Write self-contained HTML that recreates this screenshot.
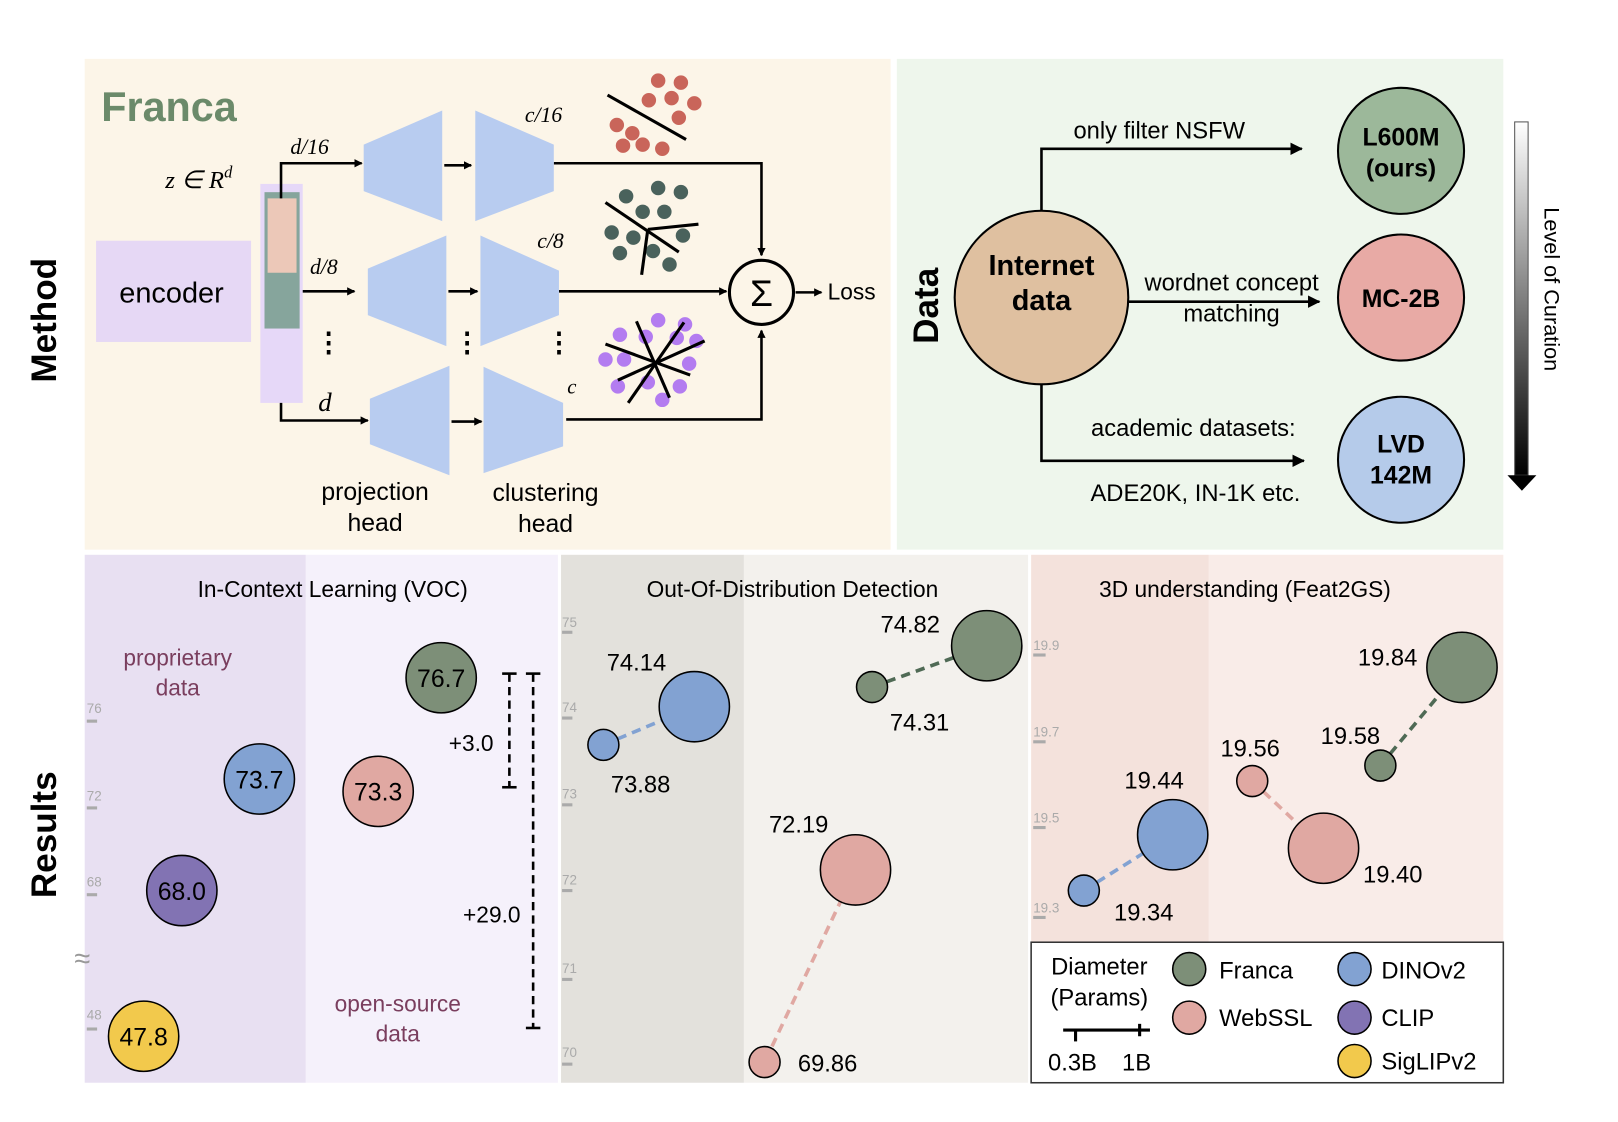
<!DOCTYPE html>
<html><head><meta charset="utf-8"><style>
html,body{margin:0;padding:0;background:#fff}
svg{display:block}
text{font-family:"Liberation Sans",sans-serif}
.s{font-family:"Liberation Serif",serif;font-style:italic}
</style></head><body>
<svg width="1618" height="1122" viewBox="0 0 1566 1086" preserveAspectRatio="none" xmlns="http://www.w3.org/2000/svg">
<defs>
<marker id="ah" markerWidth="8" markerHeight="8" refX="7" refY="4" orient="auto" markerUnits="userSpaceOnUse"><path d="M0,0 L8,4 L0,8 Z" fill="#000"/></marker>
<marker id="ah2" markerWidth="12" markerHeight="12" refX="11" refY="6" orient="auto" markerUnits="userSpaceOnUse"><path d="M0,0 L12,6 L0,12 Z" fill="#000"/></marker>
<linearGradient id="g" x1="0" y1="0" x2="0" y2="1"><stop offset="0" stop-color="#fff"/><stop offset="1" stop-color="#000"/></linearGradient>
</defs>
<rect width="1566" height="1086" fill="#fff"/>
<rect x="82" y="57" width="780" height="475" fill="#fcf5e8"/>
<rect x="868" y="57" width="587" height="475" fill="#eef6ec"/>
<rect x="82" y="537" width="214" height="511" fill="#e8e0f2"/>
<rect x="296" y="537" width="244" height="511" fill="#f5f1fb"/>
<rect x="543" y="537" width="177" height="511" fill="#e3e1dc"/>
<rect x="720" y="537" width="275" height="511" fill="#f3f1ed"/>
<rect x="998" y="537" width="172" height="375" fill="#f4e2dc"/>
<rect x="1170" y="537" width="285" height="375" fill="#f9ece8"/>

<text x="54" y="310" font-size="34" font-weight="bold" text-anchor="middle" transform="rotate(-90 54 310)">Method</text>
<text x="54" y="808" font-size="34" font-weight="bold" text-anchor="middle" transform="rotate(-90 54 808)">Results</text>
<text x="908" y="296" font-size="34" font-weight="bold" text-anchor="middle" transform="rotate(-90 908 296)">Data</text>

<text x="98" y="117" font-size="40" font-weight="bold" fill="#6b8a6a">Franca</text>
<rect x="93" y="233" width="150" height="98" fill="#e6d8f5"/>
<text x="166" y="293" font-size="28" text-anchor="middle">encoder</text>
<rect x="252" y="178" width="41" height="212" fill="#e6d8f8"/>
<rect x="256" y="186" width="34" height="132" fill="#86a59c"/>
<rect x="259" y="192" width="28" height="72" fill="#ecc8b8"/>
<text x="160" y="182" font-size="24" class="s">z ∈ R<tspan font-size="16" dy="-10">d</tspan></text>
<g stroke="#000" stroke-width="2.5" fill="none">
<path d="M272,192 V158 H350" marker-end="url(#ah)"/>
<path d="M293,282 H343" marker-end="url(#ah)"/>
<path d="M272,390 V407 H356" marker-end="url(#ah)"/>
<path d="M430,160 H456" marker-end="url(#ah)"/>
<path d="M434,282 H462" marker-end="url(#ah)"/>
<path d="M437,408 H466" marker-end="url(#ah)"/>
<path d="M536,158 H737 V247" marker-end="url(#ah)"/>
<path d="M541,282 H703" marker-end="url(#ah)"/>
<path d="M548,406 H737 V320" marker-end="url(#ah)"/>
<path d="M770,283 H795" marker-end="url(#ah)"/>
<circle cx="737" cy="283" r="31" stroke-width="3"/>
</g>
<text x="281" y="149" font-size="21" class="s">d/16</text>
<text x="300" y="265" font-size="21" class="s">d/8</text>
<text x="308" y="398" font-size="26" class="s">d</text>
<text x="508" y="118" font-size="21" class="s">c/16</text>
<text x="520" y="240" font-size="21" class="s">c/8</text>
<text x="549" y="381" font-size="20" class="s">c</text>
<text x="737" y="296" font-size="36" text-anchor="middle" font-family="DejaVu Sans">Σ</text>
<text x="801" y="290" font-size="22" font-family="Liberation Serif">Loss</text>
<g fill="#b8ccf0">
<polygon points="352,140 428,107 428,214 352,185"/>
<polygon points="460,107 536,140 536,185 460,214"/>
<polygon points="356,260 432,228 432,335 356,305"/>
<polygon points="465,228 541,262 541,305 465,335"/>
<polygon points="358,386 435,354 435,460 358,430"/>
<polygon points="468,355 545,390 545,432 468,458"/>
</g>
<g font-size="26" font-weight="bold" text-anchor="middle"><text x="318" y="340">⋮</text><text x="452" y="340">⋮</text><text x="541" y="340">⋮</text></g>
<g font-size="24" text-anchor="middle"><text x="363" y="484">projection</text><text x="363" y="514">head</text><text x="528" y="485">clustering</text><text x="528" y="515">head</text></g>
<g fill="#c9655a"><circle cx="637" cy="78" r="7"/><circle cx="659" cy="80" r="7"/><circle cx="628" cy="97" r="7"/><circle cx="650" cy="95" r="7"/><circle cx="672" cy="100" r="7"/><circle cx="657" cy="114" r="7"/><circle cx="597" cy="121" r="7"/><circle cx="612" cy="129" r="7"/><circle cx="603" cy="141" r="7"/><circle cx="622" cy="140" r="7"/><circle cx="641" cy="144" r="7"/></g>
<line x1="588" y1="92" x2="664" y2="135" stroke="#000" stroke-width="3"/>
<g fill="#4a625c"><circle cx="637" cy="182" r="7"/><circle cx="659" cy="186" r="7"/><circle cx="606" cy="190" r="7"/><circle cx="622" cy="205" r="7"/><circle cx="643" cy="205" r="7"/><circle cx="592" cy="225" r="7"/><circle cx="613" cy="230" r="7"/><circle cx="661" cy="228" r="7"/><circle cx="600" cy="245" r="7"/><circle cx="632" cy="243" r="7"/><circle cx="648" cy="256" r="7"/></g>
<g stroke="#000" stroke-width="3"><line x1="586" y1="196" x2="657" y2="244"/><line x1="627" y1="222" x2="676" y2="217"/><line x1="627" y1="222" x2="621" y2="266"/></g>
<g fill="#b37cf0"><circle cx="637" cy="310" r="7"/><circle cx="663" cy="314" r="7"/><circle cx="600" cy="324" r="7"/><circle cx="625" cy="326" r="7"/><circle cx="655" cy="327" r="7"/><circle cx="674" cy="330" r="7"/><circle cx="586" cy="348" r="7"/><circle cx="604" cy="348" r="7"/><circle cx="667" cy="352" r="7"/><circle cx="598" cy="374" r="7"/><circle cx="627" cy="370" r="7"/><circle cx="658" cy="374" r="7"/><circle cx="641" cy="387" r="7"/></g>
<g stroke="#000" stroke-width="3"><line x1="616" y1="311" x2="648" y2="385"/><line x1="662" y1="312" x2="608" y2="390"/><line x1="586" y1="333" x2="668" y2="363"/><line x1="598" y1="368" x2="682" y2="330"/></g>

<g stroke="#000" stroke-width="2.5" fill="none">
<path d="M1008,204 V144 H1260" marker-end="url(#ah2)"/>
<path d="M1092,292 H1277" marker-end="url(#ah2)"/>
<path d="M1008,360 V446 H1262" marker-end="url(#ah2)"/>
</g>
<circle cx="1008" cy="288" r="84" fill="#dfc0a0" stroke="#000" stroke-width="2"/>
<g font-size="28" font-weight="bold" text-anchor="middle"><text x="1008" y="266">Internet</text><text x="1008" y="300">data</text></g>
<g font-size="23" text-anchor="middle"><text x="1122" y="134">only filter NSFW</text><text x="1192" y="281">wordnet concept</text><text x="1192" y="311">matching</text><text x="1155" y="422">academic datasets:</text><text x="1157" y="485">ADE20K, IN-1K etc.</text></g>
<circle cx="1356" cy="146" r="61" fill="#9cb89a" stroke="#000" stroke-width="2"/>
<circle cx="1356" cy="288" r="61" fill="#e8aaa5" stroke="#000" stroke-width="2"/>
<circle cx="1356" cy="445" r="61" fill="#b5cbea" stroke="#000" stroke-width="2"/>
<g font-size="24" font-weight="bold" text-anchor="middle"><text x="1356" y="141">L600M</text><text x="1356" y="171">(ours)</text><text x="1356" y="297">MC-2B</text><text x="1356" y="438">LVD</text><text x="1356" y="468">142M</text></g>
<rect x="1466" y="118" width="13" height="342" fill="url(#g)" stroke="#555" stroke-width="1"/>
<polygon points="1459,460 1487,460 1473,475" fill="#000"/>
<text x="1495" y="280" font-size="21" text-anchor="middle" transform="rotate(90 1495 280)">Level of Curation</text>

<g font-size="22" text-anchor="middle"><text x="322" y="578">In-Context Learning (VOC)</text><text x="767" y="578">Out-Of-Distribution Detection</text><text x="1205" y="578">3D understanding (Feat2GS)</text></g>
<g font-size="22" fill="#7a3e5e" text-anchor="middle"><text x="172" y="644">proprietary</text><text x="172" y="673">data</text><text x="385" y="979">open-source</text><text x="385" y="1008">data</text></g>
<g font-size="13" fill="#aaa"><text x="84" y="690">76</text><text x="84" y="775">72</text><text x="84" y="858">68</text><text x="84" y="987">48</text>
<text x="544" y="607">75</text><text x="544" y="689">74</text><text x="544" y="773">73</text><text x="544" y="856">72</text><text x="544" y="942">71</text><text x="544" y="1023">70</text>
<text x="1000" y="629">19.9</text><text x="1000" y="713">19.7</text><text x="1000" y="796">19.5</text><text x="1000" y="883">19.3</text></g>
<g stroke="#aaa" stroke-width="3"><line x1="84" x2="94" y1="698" y2="698"/><line x1="84" x2="94" y1="782" y2="782"/><line x1="84" x2="94" y1="866" y2="866"/><line x1="84" x2="94" y1="996" y2="996"/>
<line x1="544" x2="554" y1="612" y2="612"/><line x1="544" x2="554" y1="695" y2="695"/><line x1="544" x2="554" y1="779" y2="779"/><line x1="544" x2="554" y1="862" y2="862"/><line x1="544" x2="554" y1="948" y2="948"/><line x1="544" x2="554" y1="1030" y2="1030"/>
<line x1="1000" x2="1012" y1="634" y2="634"/><line x1="1000" x2="1012" y1="718" y2="718"/><line x1="1000" x2="1012" y1="801" y2="801"/><line x1="1000" x2="1012" y1="888" y2="888"/></g>
<text x="72" y="937" font-size="28" fill="#999">≈</text>
<g stroke="#000" stroke-width="1.5">
<circle cx="427" cy="656" r="34" fill="#7d8f78"/><circle cx="251" cy="754" r="34" fill="#82a2d2"/><circle cx="366" cy="766" r="34" fill="#e0a8a2"/><circle cx="176" cy="862" r="34" fill="#8273b3"/><circle cx="139" cy="1003" r="34" fill="#f2c94c"/>
</g>
<g font-size="24" text-anchor="middle"><text x="427" y="665">76.7</text><text x="251" y="763">73.7</text><text x="366" y="775">73.3</text><text x="176" y="871">68.0</text><text x="139" y="1012">47.8</text></g>
<g stroke="#000" stroke-width="2.5"><line x1="493" y1="652" x2="493" y2="762" stroke-dasharray="8,5"/><line x1="516" y1="652" x2="516" y2="995" stroke-dasharray="8,5"/>
<line x1="486" y1="652" x2="500" y2="652"/><line x1="486" y1="762" x2="500" y2="762"/><line x1="509" y1="652" x2="523" y2="652"/><line x1="509" y1="995" x2="523" y2="995"/></g>
<g font-size="22" text-anchor="middle"><text x="456" y="727">+3.0</text><text x="476" y="893">+29.0</text></g>

<g stroke-width="3.5" stroke-dasharray="9,6"><line x1="584" y1="721" x2="672" y2="684" stroke="#82a2d2"/><line x1="844" y1="665" x2="955" y2="625" stroke="#4f6a55"/><line x1="828" y1="842" x2="740" y2="1028" stroke="#e0a8a2"/>
<line x1="1049" y1="862" x2="1135" y2="808" stroke="#82a2d2"/><line x1="1212" y1="756" x2="1281" y2="821" stroke="#e0a8a2"/><line x1="1336" y1="741" x2="1415" y2="646" stroke="#4f6a55"/></g>
<g stroke="#000" stroke-width="1.5">
<circle cx="584" cy="721" r="15" fill="#82a2d2"/><circle cx="672" cy="684" r="34" fill="#82a2d2"/><circle cx="844" cy="665" r="15" fill="#7d8f78"/><circle cx="955" cy="625" r="34" fill="#7d8f78"/><circle cx="828" cy="842" r="34" fill="#e0a8a2"/><circle cx="740" cy="1028" r="15" fill="#e0a8a2"/>
<circle cx="1049" cy="862" r="15" fill="#82a2d2"/><circle cx="1135" cy="808" r="34" fill="#82a2d2"/><circle cx="1212" cy="756" r="15" fill="#e0a8a2"/><circle cx="1281" cy="821" r="34" fill="#e0a8a2"/><circle cx="1336" cy="741" r="15" fill="#7d8f78"/><circle cx="1415" cy="646" r="34" fill="#7d8f78"/>
</g>
<g font-size="23" text-anchor="middle"><text x="616" y="649">74.14</text><text x="620" y="767">73.88</text><text x="881" y="612">74.82</text><text x="890" y="707">74.31</text><text x="773" y="806">72.19</text><text x="801" y="1037">69.86</text>
<text x="1117" y="763">19.44</text><text x="1107" y="891">19.34</text><text x="1210" y="732">19.56</text><text x="1348" y="854">19.40</text><text x="1343" y="644">19.84</text><text x="1307" y="720">19.58</text></g>

<rect x="998" y="912" width="457" height="136" fill="#fff" stroke="#333" stroke-width="1.5"/>
<g font-size="23"><text x="1064" y="943" text-anchor="middle">Diameter</text><text x="1064" y="973" text-anchor="middle">(Params)</text><text x="1038" y="1036" text-anchor="middle">0.3B</text><text x="1100" y="1036" text-anchor="middle">1B</text>
<text x="1180" y="947">Franca</text><text x="1180" y="993">WebSSL</text><text x="1337" y="947">DINOv2</text><text x="1337" y="993">CLIP</text><text x="1337" y="1035">SigLIPv2</text></g>
<g stroke="#000" stroke-width="3"><line x1="1029" y1="997" x2="1113" y2="997"/><line x1="1041" y1="997" x2="1041" y2="1008"/><line x1="1103" y1="991" x2="1103" y2="1003"/></g>
<g stroke="#000" stroke-width="1.5"><circle cx="1151" cy="938" r="16" fill="#7d8f78"/><circle cx="1151" cy="985" r="16" fill="#e0a8a2"/><circle cx="1311" cy="938" r="16" fill="#82a2d2"/><circle cx="1311" cy="985" r="16" fill="#8273b3"/><circle cx="1311" cy="1027" r="16" fill="#f2c94c"/></g>
</svg>
</body></html>
